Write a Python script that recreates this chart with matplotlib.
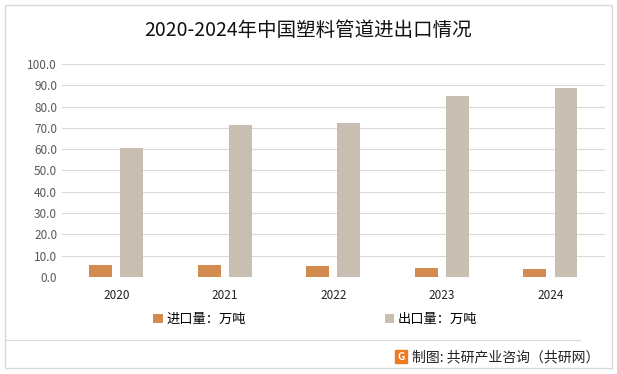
import matplotlib.pyplot as plt
from matplotlib.patches import Rectangle
import numpy as np

plt.rcParams['font.family'] = ['Noto Sans CJK SC', 'DejaVu Sans']

years = ['2020', '2021', '2022', '2023', '2024']
imports = [5.6, 5.6, 5.2, 4.2, 3.8]
exports = [60.6, 71.4, 72.3, 85.0, 88.7]

fig = plt.figure(figsize=(6.17, 3.74), dpi=100)
ax = fig.add_axes([0.1005, 0.2594, 0.8795, 0.5696])

x = np.arange(len(years))
width = 0.21
ax.bar(x - 0.143, imports, width=width, color='#D48B4E', label='进口量：万吨', zorder=3)
ax.bar(x + 0.143, exports, width=width, color='#C8BEB2', label='出口量：万吨', zorder=3)

ax.set_xlim(-0.5, 4.5)
ax.set_ylim(0, 100)
ax.set_yticks(np.arange(0, 101, 10))
ax.set_yticklabels([f'{v:.1f}' for v in np.arange(0, 101, 10)], fontsize=8.5, color='#595959')
ax.set_xticks(x)
ax.set_xticklabels(years, fontsize=8.5, color='#222222')
ax.tick_params(axis='both', length=0)
ax.tick_params(axis='x', pad=9)
ax.grid(axis='y', color='#D9D9D9', linewidth=0.8, zorder=0)
for s in ax.spines.values():
    s.set_visible(False)

fig.text(0.5, 0.918, '2020-2024年中国塑料管道进出口情况', ha='center', va='center', fontsize=14, color='#111111')

ax.legend(loc='center', bbox_to_anchor=(0.467, -0.2), ncol=2, frameon=False,
          fontsize=9.5, handlelength=0.7, handleheight=0.7, handletextpad=0.3,
          columnspacing=10.5, bbox_transform=ax.transAxes)

# outer frame and footer separator
fig.patches.append(Rectangle((5 / 617, 1 - 368 / 374), 607 / 617, 363 / 374,
                             transform=fig.transFigure, fill=False, edgecolor='#D9D9D9', linewidth=1))
fig.add_artist(plt.Line2D([5 / 617, 580 / 617], [1 - 340 / 374, 1 - 340 / 374],
                          transform=fig.transFigure, color='#D9D9D9', linewidth=0.8))

fig.patches.append(Rectangle((395 / 617, 1 - 363 / 374), 12 / 617, 13 / 374,
                             transform=fig.transFigure, color='#F07A22'))
fig.text(401 / 617, 1 - 356.5 / 374, 'G', ha='center', va='center', fontsize=7.5, color='white', fontweight='bold')
fig.text(412 / 617, 1 - 357 / 374, '制图: 共研产业咨询（共研网）', ha='left', va='center', fontsize=10, color='#222222')

fig.savefig('out.png', dpi=100)
